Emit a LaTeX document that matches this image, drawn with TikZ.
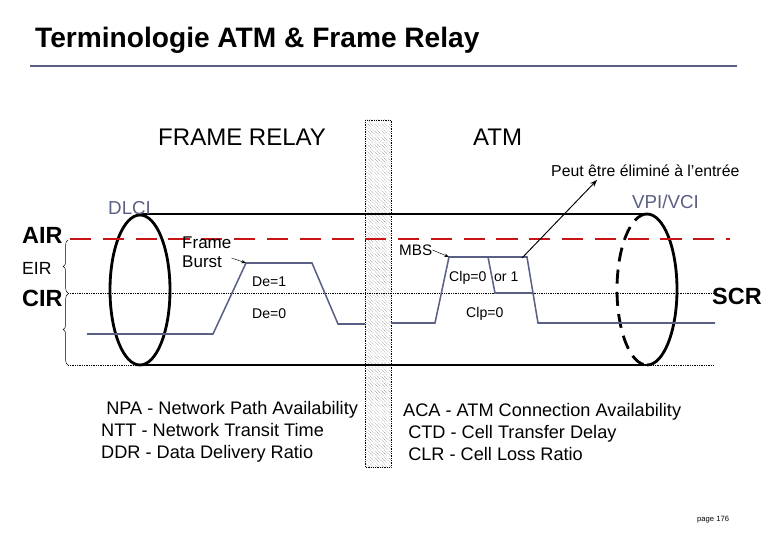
\documentclass[tikz,border=0pt]{standalone}
\usepackage{fontspec}
\setmainfont{Liberation Sans}
\usetikzlibrary{patterns,decorations.pathreplacing,arrows.meta}
\definecolor{slate}{RGB}{90,96,132}
\definecolor{dred}{RGB}{200,20,20}
\begin{document}
\begin{tikzpicture}[x=0.03cm,y=-0.03cm,
  lbl/.style={anchor=west,inner sep=0pt},
  sig/.style={slate,line width=1.3pt},
  tube/.style={line width=2.4pt},
  dot/.style={densely dotted,line width=0.5pt}]
\useasboundingbox (0,0) rectangle (780,540);
% title
\node[lbl,font=\bfseries\fontsize{24}{28}\selectfont] (title) at (35,40) {Terminologie ATM \& Frame Relay};
\draw[slate,line width=1.6pt] (30,66) -- (737,66);
\node[lbl,font=\fontsize{20.5}{24}\selectfont] (fr) at (158,137) {FRAME RELAY};
\node[lbl,font=\fontsize{20.5}{24}\selectfont] (atm) at (473,137) {ATM};
% hatched bar
\draw[pattern=north west lines,pattern color=gray,dot] (365,120) rectangle (391,467);
% dotted levels and braces
\draw[dot] (68,293) -- (713,293);
\draw[dot] (68,365) -- (713,365);
\draw[decorate,decoration={brace,amplitude=4pt}] (68,293) -- (68,240);
\draw[decorate,decoration={brace,amplitude=4pt}] (68,365) -- (68,294);
% tube
\draw[tube] (140,214) -- (647,214);
\draw[tube] (140,365) -- (647,365);
\draw[tube] (140,290) ellipse [x radius=30,y radius=75];
\draw[tube] (647,214) arc[start angle=-90,end angle=90,x radius=30,y radius=75.5];
\draw[line width=2.4pt,dash pattern=on 12pt off 7pt] (647,214) arc[start angle=-90,end angle=-270,x radius=30,y radius=75.5];
\draw[dred,line width=2.4pt,dash pattern=on 18pt off 10pt] (70,239) -- (730,239);
% signals
\draw[sig] (87,334) -- (213,334) -- (246,263) -- (312,263) -- (338,324) -- (365,324);
\draw[sig] (391,323) -- (435,323) -- (449,257) -- (527,257) -- (538,323) -- (715,323);
\draw[sig] (488,257) -- (495,293) -- (533,293);
% labels
\node[lbl,font=\bfseries\fontsize{20}{24}\selectfont] (air) at (22,235) {AIR};
\node[lbl,font=\fontsize{15}{18}\selectfont] (eir) at (22,268) {EIR};
\node[lbl,font=\bfseries\fontsize{20}{24}\selectfont] (cir) at (22,298) {CIR};
\node[lbl,slate,font=\fontsize{16}{19}\selectfont] (dlci) at (108,208) {DLCI};
\node[lbl,slate,font=\fontsize{16}{19}\selectfont] (vpi) at (632,202) {VPI/VCI};
\node[lbl,font=\bfseries\fontsize{20}{24}\selectfont] (scr) at (712,296) {SCR};
\node[lbl,align=left,font=\fontsize{14.5}{16}\selectfont] (burst) at (182,252) {Frame\\Burst};
\coordinate (bt) at (246,263);
\draw[-{Stealth[length=4pt]}] (burst.east) ++(0,6) -- (bt);
\node[lbl,font=\fontsize{12}{14}\selectfont] (de1) at (252,282) {De=1};
\node[lbl,font=\fontsize{12}{14}\selectfont] (de0) at (252,314) {De=0};
\node[lbl,font=\fontsize{13}{15}\selectfont] (mbs) at (399,250) {MBS};
\coordinate (mt) at (449,257);
\draw[-{Stealth[length=4pt]}] (mbs.east) -- (mt);
\node[lbl,font=\fontsize{12}{14}\selectfont] (clp1) at (449,278) {Clp=0\ \ or 1};
\node[lbl,font=\fontsize{12}{14}\selectfont] (clp0) at (466,314) {Clp=0};
\node[lbl,font=\fontsize{13.5}{16}\selectfont] (peut) at (551,171) {Peut être éliminé à l’entrée};
\coordinate (pa) at (522,258);
\coordinate (pb) at (597,180);
\draw[-{Stealth[length=6pt]},line width=0.8pt] (pa) -- (pb);
% bottom texts
\node[lbl,align=left,font=\fontsize{15.5}{18.7}\selectfont] (fq) at (101,432) {\ NPA - Network Path Availability\\NTT - Network Transit Time\\DDR - Data Delivery Ratio};
\node[lbl,align=left,font=\fontsize{15.5}{18.7}\selectfont] (aq) at (403,432) {ACA - ATM Connection Availability\\\ CTD - Cell Transfer Delay\\\ CLR - Cell Loss Ratio};
\node[lbl,font=\fontsize{6.5}{8}\selectfont] (page) at (697,520) {page 176};
\end{tikzpicture}
\end{document}
